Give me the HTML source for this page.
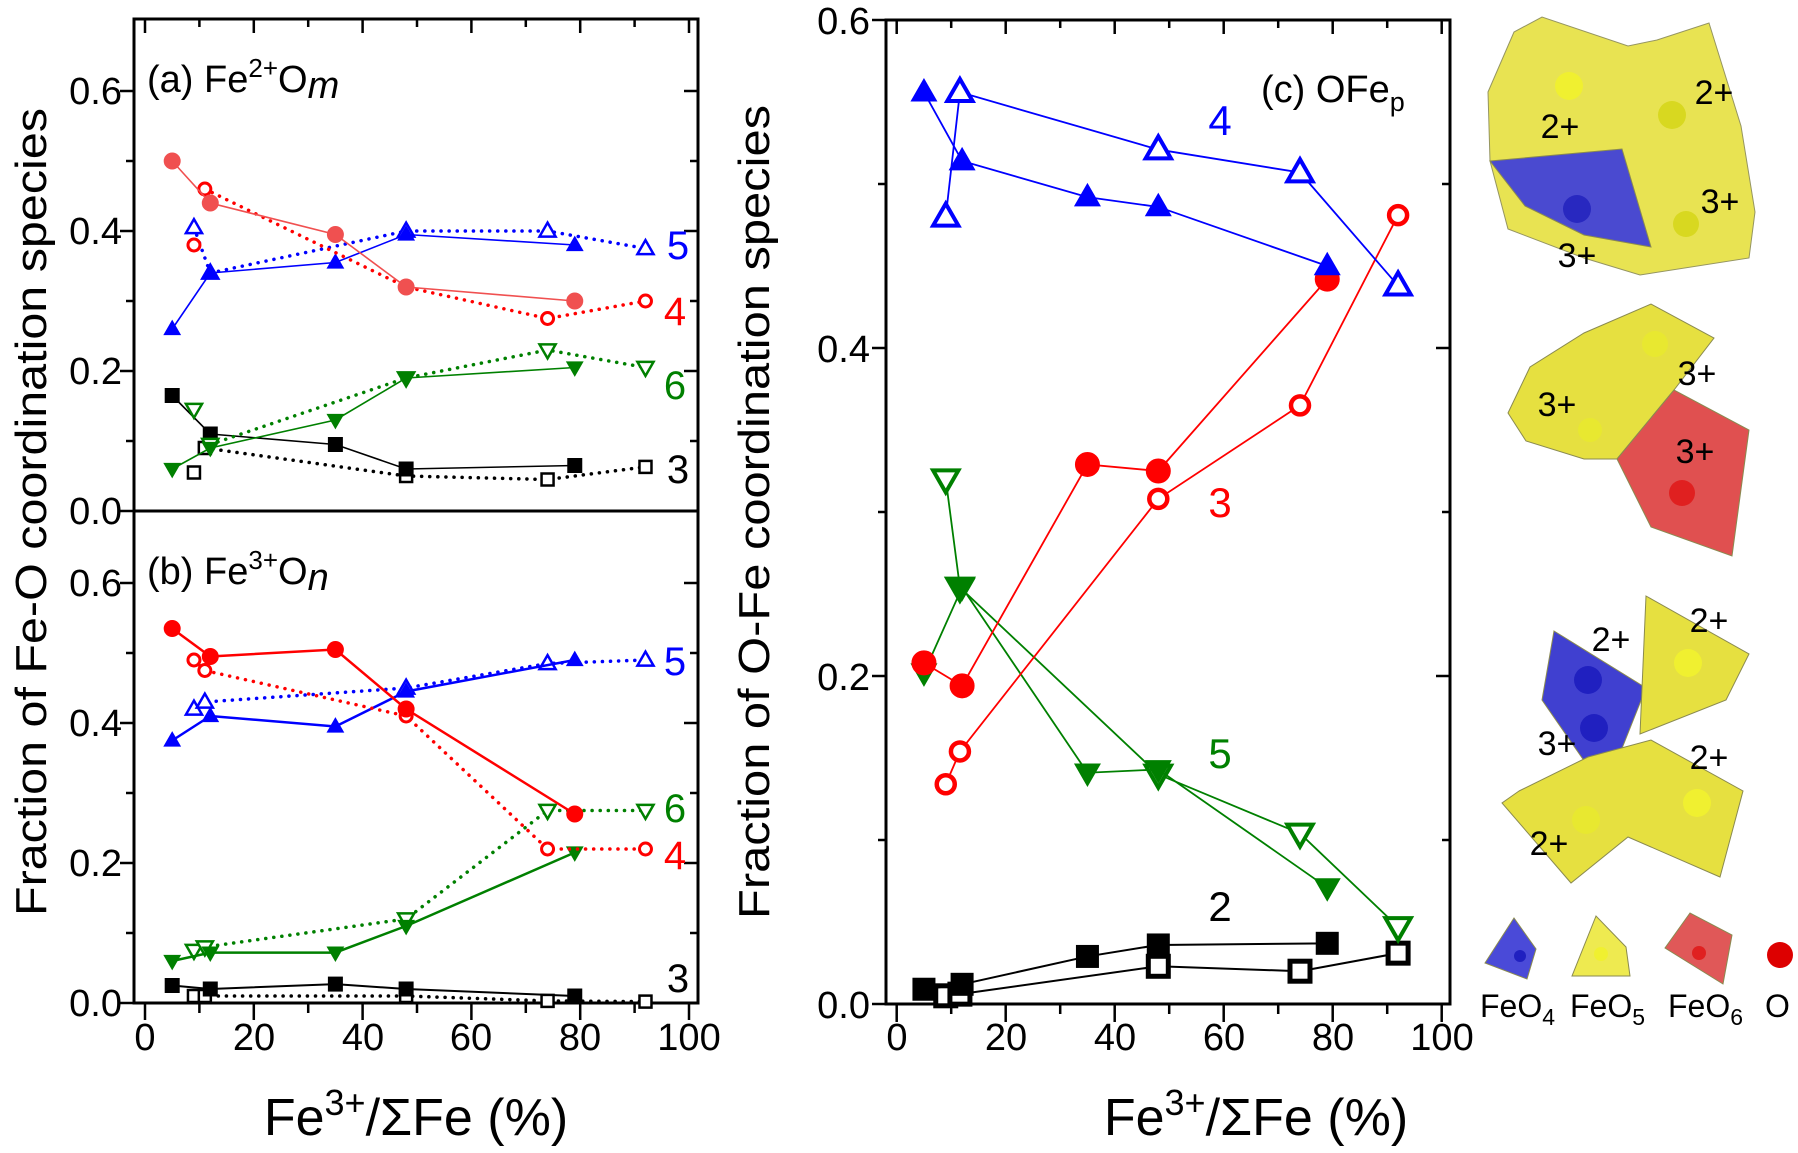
<!DOCTYPE html>
<html><head><meta charset="utf-8"><style>
html,body{margin:0;padding:0;background:#fff}
svg{display:block}
text{font-family:"Liberation Sans",Arial,sans-serif}
</style></head><body>
<svg id="s" width="1798" height="1153" viewBox="0 0 1798 1153" xmlns="http://www.w3.org/2000/svg">
<rect width="1798" height="1153" fill="#fff"/>
<g id="g"></g>
<g font-size="38" text-anchor="end">
<text x="122" y="104">0.6</text><text x="122" y="244">0.4</text><text x="122" y="384">0.2</text><text x="122" y="524">0.0</text>
<text x="122" y="596">0.6</text><text x="122" y="736">0.4</text><text x="122" y="876">0.2</text><text x="122" y="1016">0.0</text>
<text x="870" y="34">0.6</text><text x="870" y="362">0.4</text><text x="870" y="690">0.2</text><text x="870" y="1018">0.0</text>
</g>
<g font-size="38" text-anchor="middle">
<text x="145" y="1050">0</text><text x="254" y="1050">20</text><text x="363" y="1050">40</text><text x="471" y="1050">60</text><text x="580" y="1050">80</text><text x="689" y="1050">100</text>
<text x="897" y="1050">0</text><text x="1006" y="1050">20</text><text x="1115" y="1050">40</text><text x="1224" y="1050">60</text><text x="1333" y="1050">80</text><text x="1442" y="1050">100</text>
</g>
<text x="416" y="1135" font-size="52" text-anchor="middle">Fe<tspan dy="-20" font-size="36">3+</tspan><tspan dy="20">/ΣFe (%)</tspan></text>
<text x="1256" y="1135" font-size="52" text-anchor="middle">Fe<tspan dy="-20" font-size="36">3+</tspan><tspan dy="20">/ΣFe (%)</tspan></text>
<text transform="translate(46,512) rotate(-90)" font-size="44" text-anchor="middle" textLength="808" lengthAdjust="spacingAndGlyphs">Fraction of Fe-O coordination species</text>
<text transform="translate(769,512) rotate(-90)" font-size="44" text-anchor="middle" textLength="814" lengthAdjust="spacingAndGlyphs">Fraction of O-Fe coordination species</text>
<text x="147" y="92" font-size="38">(a) Fe<tspan dy="-15" font-size="26">2+</tspan><tspan dy="15">O</tspan><tspan font-style="italic" dy="6">m</tspan></text>
<text x="147" y="584" font-size="38">(b) Fe<tspan dy="-15" font-size="26">3+</tspan><tspan dy="15">O</tspan><tspan font-style="italic" dy="6">n</tspan></text>
<text x="1261" y="102" font-size="38">(c) OFe<tspan dy="9" font-size="27">p</tspan></text>
<g font-size="40" text-anchor="middle">
<text x="678" y="259" fill="#0000ff">5</text><text x="675" y="325" fill="#ff0000">4</text><text x="675" y="399" fill="#008000">6</text><text x="678" y="483" fill="#000">3</text>
<text x="675" y="675" fill="#0000ff">5</text><text x="675" y="822" fill="#008000">6</text><text x="675" y="869" fill="#ff0000">4</text><text x="678" y="992" fill="#000">3</text>
</g>
<g font-size="42" text-anchor="middle">
<text x="1220" y="135" fill="#0000ff">4</text><text x="1220" y="517" fill="#ff0000">3</text><text x="1220" y="768" fill="#008000">5</text><text x="1220" y="921" fill="#000">2</text>
</g>
<g stroke="#8a8a50" stroke-width="1">
<polygon points="1488,92 1514,32 1542,17 1628,46 1657,40 1709,23 1741,126 1755,212 1749,258 1640,275 1584,258 1508,229 1490,161" fill="#e6e040" opacity="0.9"/>
<polygon points="1490,161 1622,149 1651,247 1584,235 1525,206" fill="#4a4ad0"/>
<polygon points="1508,413 1530,367 1584,333 1651,304 1714,338 1674,390 1617,459 1584,459 1526,441" fill="#e6e040"/>
<polygon points="1617,459 1674,390 1749,430 1732,556 1651,527" fill="#e05050"/>
<polygon points="1554,631 1646,688 1605,791 1542,700" fill="#4040d0"/>
<polygon points="1646,596 1749,654 1726,700 1640,734" fill="#e6e040"/>
<polygon points="1519,791 1588,757 1651,740 1743,791 1720,877 1628,837 1571,883 1502,803" fill="#e6e040"/>
<polygon points="1514,918 1485,963 1527,979 1536,949" fill="#4a4ad8"/>
<polygon points="1596,916 1572,976 1630,976 1626,947" fill="#eeea50"/>
<polygon points="1690,913 1665,948 1723,984 1732,935" fill="#e05858"/>
</g>
<g>
<circle cx="1569" cy="86" r="14" fill="#f0f030"/><circle cx="1672" cy="115" r="14" fill="#d8d820"/><circle cx="1686" cy="224" r="13" fill="#d8d820"/><circle cx="1577" cy="209" r="14" fill="#2828c0"/>
<circle cx="1655" cy="344" r="13" fill="#e8e830"/><circle cx="1590" cy="430" r="12" fill="#e8e830"/><circle cx="1682" cy="493" r="13" fill="#e02020"/>
<circle cx="1588" cy="680" r="14" fill="#2020c0"/><circle cx="1594" cy="728" r="14" fill="#2020c0"/><circle cx="1688" cy="663" r="14" fill="#f0f030"/><circle cx="1697" cy="803" r="14" fill="#f0f030"/><circle cx="1586" cy="820" r="14" fill="#e8e830"/>
<circle cx="1520" cy="956" r="6" fill="#2020c0"/><circle cx="1601" cy="954" r="7" fill="#f0f030"/><circle cx="1699" cy="953" r="7" fill="#e02020"/>
<circle cx="1780" cy="955" r="13" fill="#dd0000"/>
</g>
<g font-size="34" text-anchor="middle" fill="#000">
<text x="1560" y="138">2+</text><text x="1714" y="104">2+</text><text x="1720" y="213">3+</text><text x="1577" y="267">3+</text>
<text x="1697" y="385">3+</text><text x="1557" y="416">3+</text><text x="1695" y="463">3+</text>
<text x="1611" y="651">2+</text><text x="1709" y="632">2+</text><text x="1557" y="755">3+</text><text x="1709" y="769">2+</text><text x="1549" y="855">2+</text>
</g>
<g font-size="32">
<text x="1480" y="1017">FeO<tspan dy="8" font-size="23">4</tspan></text>
<text x="1570" y="1017">FeO<tspan dy="8" font-size="23">5</tspan></text>
<text x="1668" y="1017">FeO<tspan dy="8" font-size="23">6</tspan></text>
<text x="1765" y="1017">O</text>
</g>
</svg>
<script>
var NS="http://www.w3.org/2000/svg",G=document.getElementById("g");
function el(t,a){var e=document.createElementNS(NS,t);for(var k in a)e.setAttribute(k,a[k]);G.appendChild(e);return e;}
function line(x1,y1,x2,y2,w){el("line",{x1:x1,y1:y1,x2:x2,y2:y2,stroke:"#000","stroke-width":w||2.5});}
el("rect",{x:134,y:19,width:564,height:984,fill:"none",stroke:"#000","stroke-width":3});
line(134,511,698,511,3);
el("rect",{x:886,y:20,width:564,height:984,fill:"none",stroke:"#000","stroke-width":3});
function X1(v){return 145+5.44*v} function X2(v){return 896.7+5.45*v}
for(var v=0;v<=100;v+=10){var M=v%20==0;
 line(X1(v),1003,X1(v),1003+(M?17:10));line(X1(v),19,X1(v),19+(M?14:8));
 line(X2(v),1004,X2(v),1004+(M?18:10));line(X2(v),20,X2(v),20+(M?14:8));}
[511,1003].forEach(function(b){for(var i=0;i<=6;i++){var y=b-70*i,M=i%2==0;line(134,y,134-(M?14:8),y);line(698,y,698-(M?14:8),y);}});
for(var i=0;i<=6;i++){var y=1004-164*i,M=i%2==0;line(886,y,886-(M?14:8),y);line(1450,y,1450-(M?14:8),y);}
function mk(sh,x,y,s,col,open,sw){
 var f=open?"#fff":col,st=col,a={fill:f,stroke:st,"stroke-width":open?sw:1};
 if(sh=="s"){a.x=x-s;a.y=y-s;a.width=2*s;a.height=2*s;if(open){a.stroke="#000"}el("rect",a);}
 else if(sh=="c"){a.cx=x;a.cy=y;a.r=s;el("circle",a);}
 else if(sh=="u"){a.points=(x-s*1.15)+","+(y+s*0.8)+" "+(x+s*1.15)+","+(y+s*0.8)+" "+x+","+(y-s*1.2);el("polygon",a);}
 else {a.points=(x-s*1.15)+","+(y-s*0.8)+" "+(x+s*1.15)+","+(y-s*0.8)+" "+x+","+(y+s*1.2);el("polygon",a);}
}
function ser(pts,XF,YF,sh,col,open,dot,s,lw,sw,skip){
 var p=[];pts.forEach(function(q,i){if(i>=(skip||0))p.push(XF(q[0])+","+YF(q[1]));});
 var a={points:p.join(" "),fill:"none",stroke:col,"stroke-width":lw};
 if(dot){a["stroke-dasharray"]="0.1 8";a["stroke-linecap"]="round";a["stroke-width"]=3.5;}
 el("polyline",a);
 pts.forEach(function(q){mk(sh,XF(q[0]),YF(q[1]),s,col,open,sw);});
}
var Ya=function(v){return 511-700*v},Yb=function(v){return 1003-700*v},Y2=function(v){return 1004-1640*v};
var R="#ff0000",B="#0000ff",Gr="#008000",K="#000";
ser([[9,0.055],[11,0.09],[48,0.05],[74,0.045],[92,0.063]],X1,Ya,"s",K,true,true,6,1.5,2.5,1);
ser([[5,0.165],[12,0.11],[35,0.095],[48,0.06],[79,0.065]],X1,Ya,"s",K,false,false,7,1.6);
ser([[9,0.145],[12,0.095],[48,0.19],[74,0.23],[92,0.205]],X1,Ya,"d",Gr,true,true,7,1.5,2.5,1);
ser([[5,0.06],[12,0.09],[35,0.13],[48,0.19],[79,0.205]],X1,Ya,"d",Gr,false,false,7,1.6);
ser([[9,0.405],[12,0.34],[48,0.40],[74,0.40],[92,0.375]],X1,Ya,"u",B,true,true,7,1.5,2.5);
ser([[5,0.26],[12,0.34],[35,0.355],[48,0.395],[79,0.38]],X1,Ya,"u",B,false,false,7,1.6);
ser([[9,0.38],[11,0.46],[48,0.32],[74,0.275],[92,0.30]],X1,Ya,"c",R,true,true,6,1.5,3,1);
ser([[5,0.50],[12,0.44],[35,0.395],[48,0.32],[79,0.30]],X1,Ya,"c","#f05050",false,false,8,1.6);
ser([[9,0.01],[11,0.01],[48,0.01],[74,0.003],[92,0.002]],X1,Yb,"s",K,true,true,6,1.5,2.5);
ser([[5,0.025],[12,0.02],[35,0.027],[48,0.02],[79,0.01]],X1,Yb,"s",K,false,false,7,2);
ser([[9,0.075],[11,0.08],[48,0.12],[74,0.275],[92,0.275]],X1,Yb,"d",Gr,true,true,7,1.5,2.5);
ser([[5,0.06],[12,0.072],[35,0.072],[48,0.11],[79,0.215]],X1,Yb,"d",Gr,false,false,7,2.5);
ser([[9,0.42],[11,0.43],[48,0.45],[74,0.485],[92,0.49]],X1,Yb,"u",B,true,true,7,1.5,2.5);
ser([[5,0.375],[12,0.41],[35,0.395],[48,0.445],[79,0.49]],X1,Yb,"u",B,false,false,7,2.5);
ser([[9,0.49],[11,0.475],[48,0.41],[74,0.22],[92,0.22]],X1,Yb,"c",R,true,true,6,1.5,3);
ser([[5,0.535],[12,0.495],[35,0.505],[48,0.42],[79,0.27]],X1,Yb,"c",R,false,false,8,2.5);
ser([[9,0.005],[11.6,0.006],[48,0.023],[74,0.02],[92,0.031]],X2,Y2,"s",K,true,false,10,2,5);
ser([[5,0.009],[12,0.012],[35,0.029],[48,0.036],[79,0.037]],X2,Y2,"s",K,false,false,11,2);
ser([[9,0.32],[11.6,0.254],[48,0.14],[74,0.104],[92,0.047]],X2,Y2,"d",Gr,true,false,11,1.8,4);
ser([[5,0.202],[12,0.254],[35,0.141],[48,0.143],[79,0.071]],X2,Y2,"d",Gr,false,false,11,1.8);
ser([[9,0.134],[11.6,0.154],[48,0.308],[74,0.365],[92,0.481]],X2,Y2,"c",R,true,false,9,1.8,4.5);
ser([[5,0.208],[12,0.194],[35,0.329],[48,0.325],[79,0.442]],X2,Y2,"c",R,false,false,12,1.8);
ser([[9,0.48],[11.6,0.556],[48,0.521],[74,0.507],[92,0.438]],X2,Y2,"u",B,true,false,11,1.8,4);
ser([[5,0.556],[12,0.514],[35,0.492],[48,0.486],[79,0.45]],X2,Y2,"u",B,false,false,11,1.8);
</script>
</body></html>
